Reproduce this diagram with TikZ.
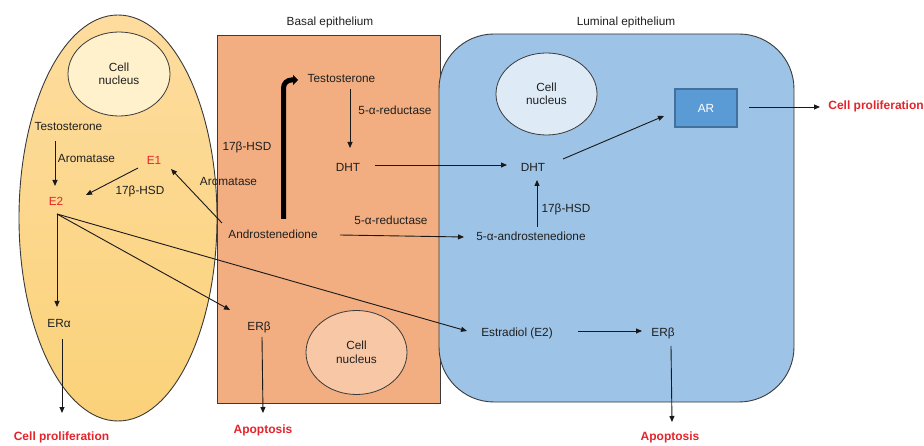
\documentclass[tikz,border=0pt]{standalone}
\usepackage{fontspec}
\setmainfont{Liberation Sans}
\usetikzlibrary{arrows.meta,shapes.geometric,calc}
\definecolor{redtxt}{HTML}{E3242B}
\definecolor{ellTop}{HTML}{FDDC9E}
\definecolor{ellBot}{HTML}{FBD27A}
\definecolor{nucL}{HTML}{FEF1CC}
\definecolor{basal}{HTML}{F2AE80}
\definecolor{nucB}{HTML}{F7C7A6}
\definecolor{lumin}{HTML}{9DC3E6}
\definecolor{nucR}{HTML}{DEEBF7}
\definecolor{arfill}{HTML}{5B9BD5}
\definecolor{arline}{HTML}{41719C}
\definecolor{edge}{HTML}{3A3A3A}
\begin{document}
\begin{tikzpicture}[x=1pt,y=-1pt,
  txt/.style={font=\fontsize{11.8}{13.5}\selectfont, inner sep=1pt, text=black!88},
  redbold/.style={font=\fontsize{12}{14}\selectfont\bfseries, inner sep=1pt, text=redtxt},
  cellshape/.style={draw=edge, line width=0.9pt, inner sep=0pt},
  nucshape/.style={ellipse, draw=edge, line width=0.8pt, inner sep=0pt, align=center,
    font=\fontsize{11.8}{13.5}\selectfont, text=black!88},
  arr/.style={-{Triangle[length=6pt,width=5pt]}, line width=0.9pt, draw=black!90},
  bigarr/.style={-{Triangle[length=5pt,width=10pt]}, line width=5pt, rounded corners=8pt, draw=black},
]
\useasboundingbox (0,0) rectangle (924,446);

% cells
\node[cellshape, ellipse, minimum width=198pt, minimum height=406pt,
      top color=ellTop, bottom color=ellBot] (cellL) at (118,218) {};
\node[cellshape, fill=basal, minimum width=223pt, minimum height=368pt] (cellB) at (328.5,219) {};
\node[cellshape, fill=lumin, rounded corners=55pt, minimum width=355pt, minimum height=368pt] (cellR) at (616.5,218) {};

% nuclei
\node[nucshape, fill=nucL, minimum width=102pt, minimum height=84pt] (nL) at (119,74) {Cell\\nucleus};
\node[nucshape, fill=nucB, minimum width=101pt, minimum height=84pt] (nB) at (356.5,352.5) {Cell\\nucleus};
\node[nucshape, fill=nucR, minimum width=101pt, minimum height=82pt] (nR) at (546.5,94) {Cell\\nucleus};

% titles
\node[txt] (basalT) at (330,22) {Basal epithelium};
\node[txt] (lumT) at (626,22) {Luminal epithelium};

% left cell texts
\node[txt] (testL) at (68.5,127) {Testosterone};
\node[txt] (aromL) at (86.5,159) {Aromatase};
\node[txt, text=redtxt] (e1) at (154,160) {E1};
\node[txt] (hsdL) at (140,191) {17β-HSD};
\node[txt, text=redtxt] (e2) at (56,201) {E2};
\node[txt] (erA) at (59,323) {ERα};
\node[redbold] (cpL) at (61.5,437) {Cell proliferation};

% basal texts
\node[txt] (aromB) at (228.5,182) {Aromatase};
\node[txt] (hsdB) at (247,147) {17β-HSD};
\node[txt] (testB) at (341.5,79) {Testosterone};
\node[txt] (redB1) at (395,110) {5-α-reductase};
\node[txt] (dhtB) at (348,167) {DHT};
\node[txt] (redB2) at (391,220) {5-α-reductase};
\node[txt] (andro) at (273,234) {Androstenedione};
\node[txt] (erBb) at (259,327) {ERβ};
\node[redbold] (apB) at (263,430) {Apoptosis};

% luminal texts
\node[draw=arline, line width=1.2pt, fill=arfill, minimum width=62pt, minimum height=38pt,
      font=\fontsize{11.8}{13.5}\selectfont, text=white] (ar) at (706,108) {AR};
\node[redbold] (cpR) at (876,106) {Cell proliferation};
\node[txt] (dhtR) at (533,167) {DHT};
\node[txt] (hsdR) at (566,209) {17β-HSD};
\node[txt] (androR) at (531,236) {5-α-androstenedione};
\node[txt] (estr) at (517,333) {Estradiol (E2)};
\node[txt] (erBl) at (663,333) {ERβ};
\node[redbold] (apR) at (670,437) {Apoptosis};

% connectors
\coordinate (e2o) at ($(e2)+(1,13)$);
\draw[arr] ($(testL)+(-13.5,14)$) -- ($(e2)+(-1,-15)$);
\draw[arr] ($(e1)+(-16,8)$) -- ($(e2)+(30,-6)$);
\draw[arr] (e2o) -- ($(erA)+(-2,-16)$);
\draw[arr] (e2o) -- ($(erBb)+(-29,-17)$);
\draw[arr] (e2o) -- ($(estr)+(-50,-2)$);
\draw[arr] ($(erA)+(3,16)$) -- ($(cpL)+(0.5,-24)$);
\draw[arr] ($(andro)+(-51,-11)$) -- ($(e1)+(17,9)$);
\draw[bigarr] ($(andro)+(10.5,-15)$) |- ($(testB)+(-43.5,1)$);
\draw[arr] ($(testB)+(8.5,10)$) -- ($(dhtB)+(2,-19)$);
\draw[arr] ($(dhtB)+(27,-2)$) -- ($(dhtR)+(-26,-2)$);
\draw[arr] ($(andro)+(67,1)$) -- ($(androR)+(-67,1)$);
\draw[arr] ($(erBb)+(3,10)$) -- ($(apB)+(0,-17)$);
\draw[arr] ($(dhtR)+(30,-8)$) -- ($(ar)+(-42,8)$);
\draw[arr] ($(androR)+(6,-9)$) -- ($(dhtR)+(4,13)$);
\draw[arr] ($(estr)+(61,-2)$) -- ($(erBl)+(-21,-2)$);
\draw[arr] ($(erBl)+(8,13)$) -- ($(apR)+(2,-15)$);
\draw[arr] ($(ar)+(43,-1)$) -- ($(cpR)+(-56,1)$);
\end{tikzpicture}
\end{document}
